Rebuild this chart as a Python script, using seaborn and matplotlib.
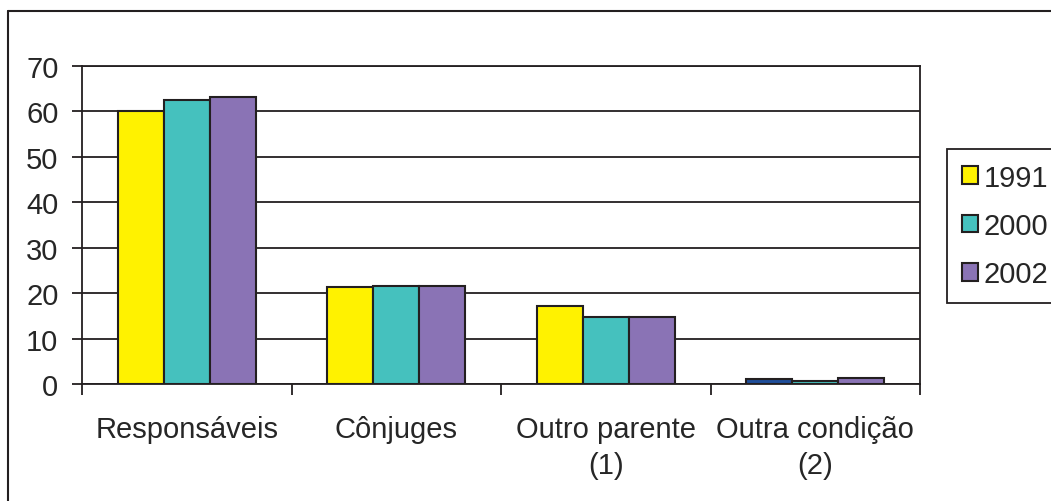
import pandas as pd
import numpy as np
import seaborn as sns
import matplotlib.pyplot as plt
from matplotlib.lines import Line2D

# Values
categories = ["Responsáveis", "Cônjuges", "Outro parente\n(1)", "Outra condição\n(2)"]
years = ["1991", "2000", "2002"]
v1991 = [60.1, 21.4, 17.2, 1.0]
v2000 = [62.5, 21.6, 14.7, 0.6]
v2002 = [63.2, 21.6, 14.7, 1.3]
colors = ["#FFF200", "#45C1BE", "#8A73B5"]

data = pd.DataFrame({
    "cat": categories * 3,
    "ano": [y for y in years for _ in categories],
    "valor": v1991 + v2000 + v2002,
})

sns.set_style("white")
plt.rcParams['font.family'] = ['Liberation Sans', 'DejaVu Sans']

fig = plt.figure(figsize=(10.51, 5.02), dpi=100)
ax = fig.add_axes([82 / 1051, 1 - 385 / 502, 838 / 1051, 318 / 502])

sns.barplot(data=data, x="cat", y="valor", hue="ano", palette=colors,
            width=0.66, edgecolor="#231F20", linewidth=1.5, saturation=1,
            ax=ax, zorder=3)

# the first bar of the last group is drawn dark blue in the source
for p in ax.patches:
    if abs(p.get_x() + p.get_width() / 2 - (3 - 0.22)) < 0.01 and p.get_height() > 0:
        p.set_facecolor("#1F4E9A")

ax.set_ylim(0, 70)
ax.set_xlim(-0.5, 3.5)
ax.set_yticks(range(0, 71, 10))
ax.yaxis.grid(True, color="#231F20", linewidth=1.3, zorder=0)
ax.set_axisbelow(True)
for s in ax.spines.values():
    s.set_color("#231F20")
    s.set_linewidth(1.3)
    s.set_visible(True)

ax.set_xlabel("")
ax.set_ylabel("")
ax.tick_params(axis="y", which="major", length=7, width=1.3, color="#231F20",
               labelsize=21, left=True, pad=10)
ax.tick_params(axis="x", which="major", length=0, labelsize=21, pad=22)
for t in ax.get_xticklabels():
    t.set_linespacing(1.4)
ax.set_xticks(np.arange(-0.5, 4, 1), minor=True)
ax.tick_params(axis="x", which="minor", length=8, width=1.3, color="#231F20",
               bottom=True, direction="out")

ax.legend(loc="upper left", bbox_to_anchor=(947 / 1051, 1 - 150 / 502),
          bbox_transform=fig.transFigure, fontsize=21, frameon=True,
          fancybox=False, edgecolor="#231F20", framealpha=1,
          handlelength=0.55, handleheight=0.55, handletextpad=0.2,
          labelspacing=0.7, borderpad=0.5, borderaxespad=0, title=None)
ax.get_legend().get_frame().set_linewidth(1.3)

# outer frame of the figure
fig.add_artist(Line2D([8 / 1051, 8 / 1051], [0, 1 - 12 / 502], color="#231F20", lw=1.5))
fig.add_artist(Line2D([8 / 1051, 1], [1 - 12 / 502, 1 - 12 / 502], color="#231F20", lw=1.5))

fig.savefig("out.png", dpi=100)
